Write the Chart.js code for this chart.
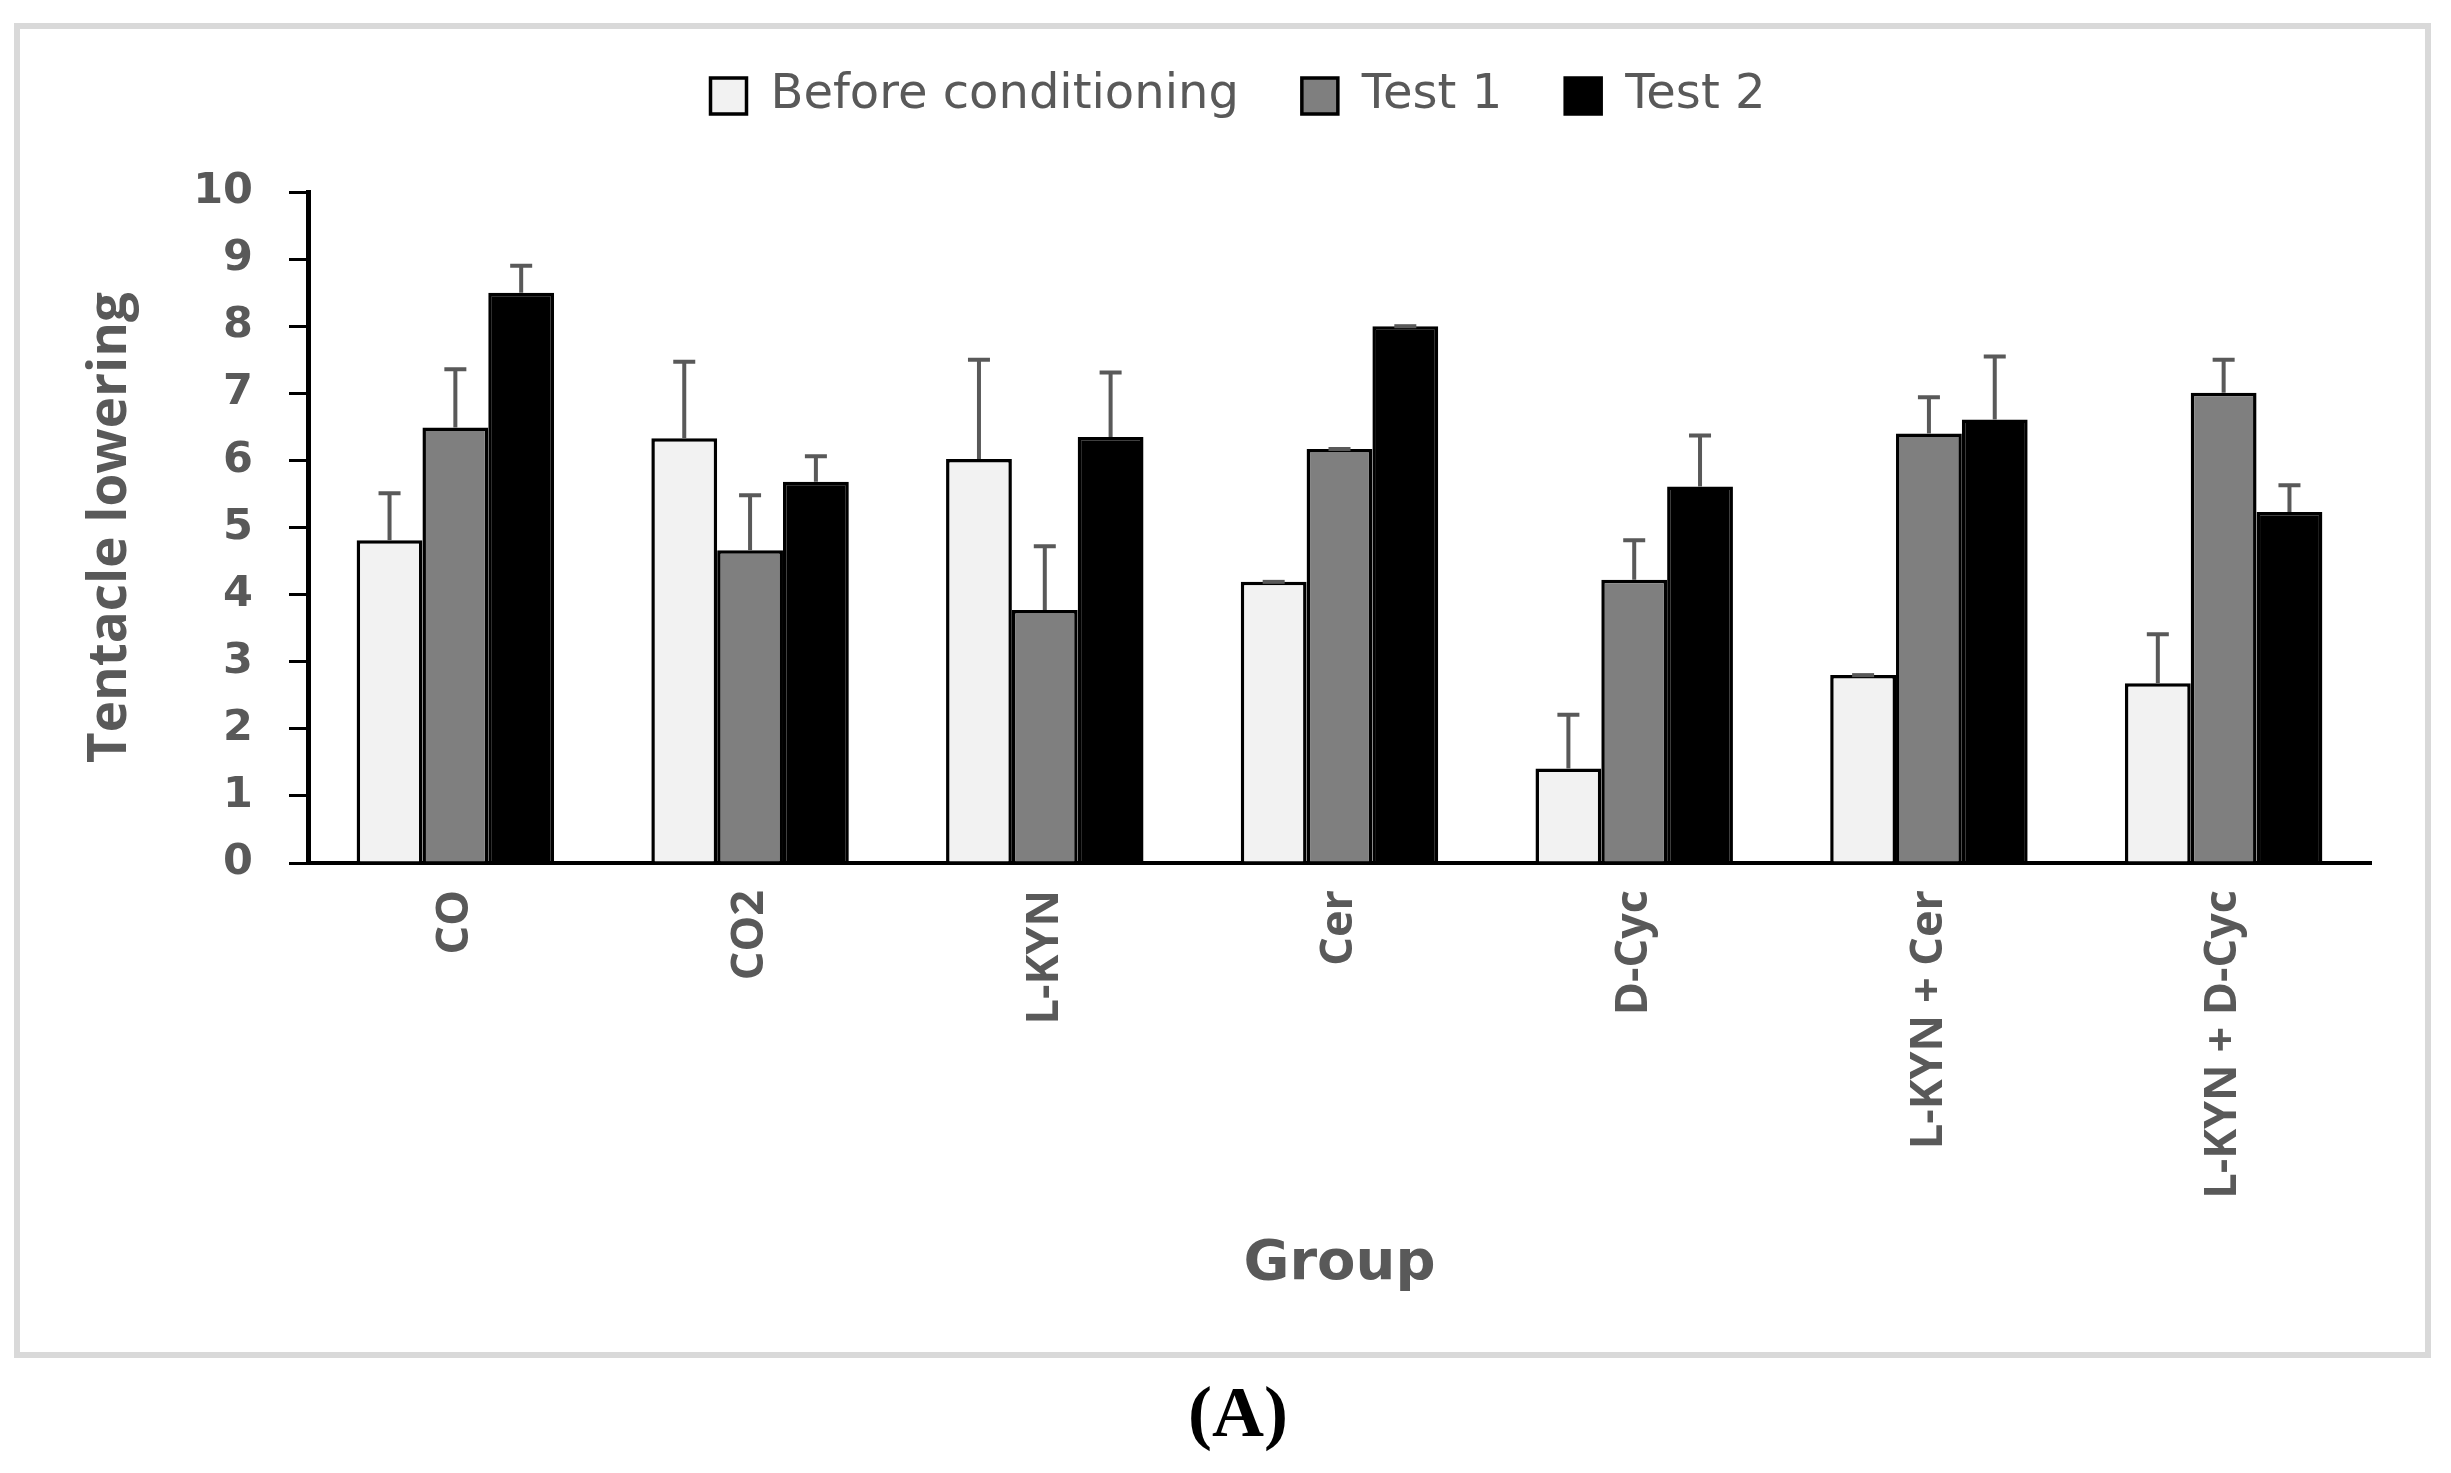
<!DOCTYPE html>
<html>
<head>
<meta charset="utf-8">
<script src="https://cdn.jsdelivr.net/npm/chart.js@4.4.0/dist/chart.umd.min.js"></script>
<style>
html,body{margin:0;padding:0;background:#ffffff;}
canvas{display:block;}
</style>
</head>
<body>
<canvas id="chart" width="2451" height="1473"></canvas>
<script>
// ---- data ----
const categories = ['CO', 'CO2', 'L-KYN', 'Cer', 'D-Cyc', 'L-KYN + Cer', 'L-KYN + D-Cyc'];
const seriesNames = ['Before conditioning', 'Test 1', 'Test 2'];
const beforeValues = [4.81, 6.33, 6.02, 4.19, 1.41, 2.80, 2.68];
const beforeErrors = [0.70, 1.14, 1.48, 0.00, 0.80, 0.00, 0.73];
const test1Values  = [6.49, 4.66, 3.77, 6.17, 4.22, 6.40, 7.01];
const test1Errors  = [0.87, 0.82, 0.95, 0.00, 0.59, 0.54, 0.49];
const test2Values  = [8.50, 5.68, 6.35, 8.00, 5.61, 6.61, 5.23];
const test2Errors  = [0.40, 0.38, 0.96, 0.00, 0.76, 0.94, 0.40];
const yTickValues  = [0, 1, 2, 3, 4, 5, 6, 7, 8, 9, 10];
const yTitle = 'Tentacle lowering';
const xTitle = 'Group';
const panelLabel = '(A)';

const errorSets = [beforeErrors, test1Errors, test2Errors];

const TEXT_GREY = '#595959';
const SANS = "'Open Sans', 'Noto Sans', sans-serif";

const framePlugin = {
  id: 'frame',
  beforeDraw(chart) {
    const ctx = chart.ctx;
    ctx.save();
    ctx.fillStyle = '#ffffff';
    ctx.fillRect(0, 0, chart.width, chart.height);
    ctx.strokeStyle = '#d9d9d9';
    ctx.lineWidth = 6;
    ctx.strokeRect(17, 26, 2411, 1329);
    ctx.restore();
  }
};

const errorBarPlugin = {
  id: 'errorBars',
  afterDatasetsDraw(chart) {
    const ctx = chart.ctx;
    const yScale = chart.scales.y;
    ctx.save();
    ctx.strokeStyle = '#595959';
    ctx.lineWidth = 4;
    chart.data.datasets.forEach((ds, i) => {
      const meta = chart.getDatasetMeta(i);
      const errs = errorSets[i];
      meta.data.forEach((bar, j) => {
        const v = ds.data[j];
        const top = yScale.getPixelForValue(v + errs[j]);
        ctx.beginPath();
        ctx.moveTo(bar.x, bar.y);
        ctx.lineTo(bar.x, top);
        ctx.moveTo(bar.x - 11, top);
        ctx.lineTo(bar.x + 11, top);
        ctx.stroke();
      });
    });
    ctx.restore();
  }
};

const fills = ['#f2f2f2', '#7f7f7f', '#000000'];
const valueSets = [beforeValues, test1Values, test2Values];

new Chart(document.getElementById('chart'), {
  type: 'bar',
  data: {
    labels: categories,
    datasets: seriesNames.map((name, i) => ({
      label: name,
      data: valueSets[i],
      backgroundColor: fills[i],
      borderColor: '#000000',
      borderWidth: 3.5,
      categoryPercentage: 0.67,
      barPercentage: 1.0
    }))
  },
  options: {
    responsive: false,
    devicePixelRatio: 1,
    animation: false,
    layout: { padding: { left: 105, right: 80, top: 9, bottom: 0 } },
    plugins: {
      legend: {
        position: 'top',
        weight: 3000,
        labels: {
          font: { family: 'DejaVu Sans', size: 48 },
          color: TEXT_GREY,
          boxWidth: 36,
          boxHeight: 36,
          padding: 63
        }
      },
      subtitle: {
        display: true,
        text: '',
        position: 'top',
        weight: 1500,
        font: { size: 10, lineHeight: 1 },
        padding: { top: 52, bottom: 0 }
      },
      title: {
        display: true,
        text: panelLabel,
        position: 'bottom',
        weight: 2000,
        color: '#000000',
        font: { family: "'Liberation Serif', 'DejaVu Serif', serif", size: 72, weight: 'bold', lineHeight: 1.2 },
        padding: { top: 75.4, bottom: 12.8 }
      },
      tooltip: { enabled: false }
    },
    scales: {
      x: {
        grid: { display: false, drawTicks: false },
        border: { display: true, color: '#000000', width: 4 },
        ticks: {
          autoSkip: false,
          minRotation: 90,
          maxRotation: 90,
          padding: 27,
          color: TEXT_GREY,
          font: { family: SANS, size: 45, weight: 'bold' }
        },
        title: {
          display: true,
          text: xTitle,
          color: TEXT_GREY,
          font: { family: 'DejaVu Sans', size: 56, weight: 'bold', lineHeight: 1.2 },
          padding: { top: 0, bottom: 0 }
        },
        afterFit(scale) { scale.height = 435.4; }
      },
      y: {
        min: 0,
        max: 10,
        afterBuildTicks(scale) { scale.ticks = yTickValues.map(v => ({ value: v })); },
        ticks: {
          padding: 36,
          color: TEXT_GREY,
          font: { family: 'DejaVu Sans', size: 43, weight: 'bold' }
        },
        grid: { drawOnChartArea: false, drawTicks: true, tickLength: 19, color: '#000000', lineWidth: 3 },
        border: { display: true, color: '#000000', width: 5 },
        title: {
          display: true,
          text: yTitle,
          color: TEXT_GREY,
          font: { family: SANS, size: 53, weight: 'bold', lineHeight: 0.24 },
          padding: 0
        },
        afterFit(scale) { scale.width = 203; }
      }
    }
  },
  plugins: [framePlugin, errorBarPlugin]
});
</script>
</body>
</html>
